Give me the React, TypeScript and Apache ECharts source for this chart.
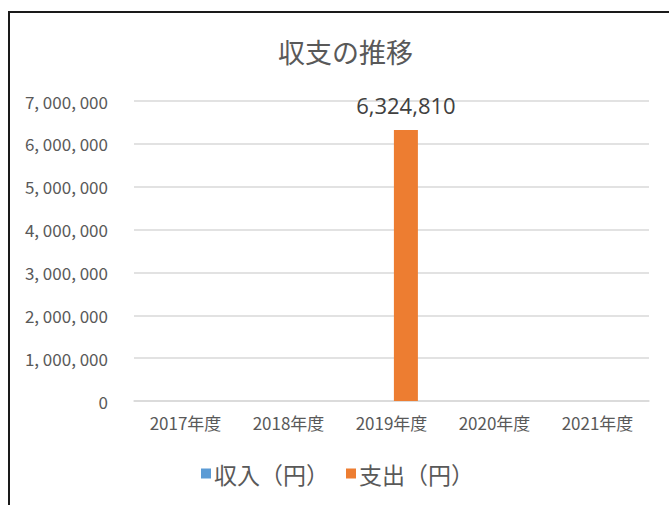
import React, { useEffect, useRef } from "react";
import * as echarts from "echarts";

const categories = ["2017年度", "2018年度", "2019年度", "2020年度", "2021年度"];
const incomeValues: (number | null)[] = [null, null, null, null, null];
const expenseValues: (number | null)[] = [null, null, 6324810, null, null];
const seriesNames = ["収入（円）", "支出（円）"];
const titleText = "収支の推移";

const TEXT = "#595959";
const JP = "'Noto Sans CJK JP', 'Noto Sans', sans-serif";

export default function App() {
  const ref = useRef<HTMLDivElement>(null);
  useEffect(() => {
    if (!ref.current) return;
    const chart = echarts.init(ref.current, undefined, { renderer: "svg" });
    chart.setOption({
      animation: false,
      backgroundColor: "#ffffff",
      title: {
        text: titleText,
        left: 273,
        top: 33,
        textStyle: { color: TEXT, fontSize: 27, fontWeight: "normal", fontFamily: JP },
      },
      legend: {
        left: 196,
        top: 457,
        icon: "rect",
        itemWidth: 10,
        itemHeight: 10,
        itemGap: 17,
        textStyle: { color: TEXT, fontSize: 23, fontFamily: JP, padding: [0, 0, 0, -2] },
        data: seriesNames,
      },
      grid: { left: 134, right: 20, top: 101, bottom: 104 },
      xAxis: {
        type: "category",
        data: categories,
        axisLine: { show: true, lineStyle: { color: "#D9D9D9", width: 1.5 } },
        axisTick: { show: false },
        axisLabel: { color: TEXT, fontSize: 17, fontFamily: JP, margin: 13 },
      },
      yAxis: {
        type: "value",
        min: 0,
        max: 7000000,
        interval: 1000000,
        axisLine: { show: false },
        axisTick: { show: false },
        splitLine: { lineStyle: { color: "#D9D9D9", width: 1.5 } },
        axisLabel: {
          color: TEXT,
          fontSize: 17,
          fontFamily: JP,
          margin: 26,
          formatter: (v: number) => v.toLocaleString("en-US").replace(/,/g, ", "),
        },
      },
      series: [
        {
          name: seriesNames[0],
          type: "bar",
          data: incomeValues,
          barWidth: 24,
          barGap: "20%",
          itemStyle: { color: "#5B9BD5" },
        },
        {
          name: seriesNames[1],
          type: "bar",
          data: expenseValues,
          barWidth: 24,
          barGap: "20%",
          itemStyle: { color: "#ED7D31" },
          label: {
            show: true,
            position: "top",
            distance: 14,
            color: "#404040",
            fontSize: 22,
            fontFamily: "'Open Sans', 'Noto Sans', sans-serif",
            formatter: (p: any) => (p.value == null ? "" : Number(p.value).toLocaleString("en-US")),
          },
        },
      ],
      graphic: [
        {
          type: "rect",
          shape: { x: 9, y: 12, width: 800, height: 700 },
          style: { fill: "none", stroke: "#1a1a1a", lineWidth: 2 },
          silent: true,
        },
      ],
    });
    return () => chart.dispose();
  }, []);
  return (
    <div
      ref={ref}
      style={{ position: "fixed", left: 0, top: 0, width: 669, height: 505 }}
    />
  );
}
